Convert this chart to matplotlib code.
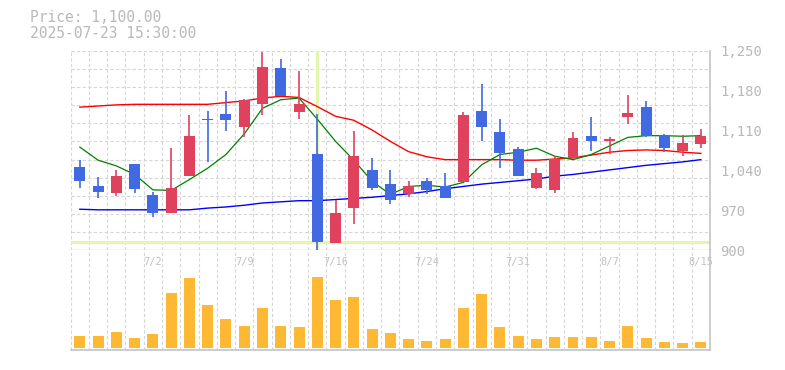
import numpy as np
import matplotlib
matplotlib.use('Agg')
import matplotlib.pyplot as plt
import matplotlib.transforms as mtransforms

# daily candles (35 sessions)
opens = [1046, 1013, 1000, 1052, 997, 966, 1031, 1131, 1139, 1117, 1157, 1220, 1143, 1068, 913,
         974, 1040, 1017, 998, 1022, 1012, 1019, 1145, 1108, 1078, 1010, 1005, 1061, 1101, 1091,
         1134, 1152, 1103, 1075, 1087]
highs = [1059, 1029, 1040, 1052, 1002, 1080, 1137, 1145, 1180, 1166, 1248, 1236, 1215, 1139, 988,
         1110, 1061, 1041, 1022, 1026, 1036, 1143, 1192, 1131, 1082, 1045, 1065, 1108, 1134, 1098,
         1173, 1162, 1104, 1103, 1112]
lows = [1010, 991, 996, 1001, 959, 966, 1031, 1054, 1110, 1098, 1138, 1171, 1131, 901, 912,
        946, 1005, 981, 993, 998, 991, 1019, 1091, 1045, 1030, 1008, 1000, 1061, 1075, 1069,
        1121, 1098, 1073, 1066, 1079]
closes = [1021, 1002, 1031, 1008, 966, 1010, 1101, 1129, 1129, 1163, 1222, 1171, 1157, 914, 966,
          1066, 1010, 988, 1012, 1005, 991, 1138, 1117, 1071, 1030, 1036, 1060, 1097, 1091, 1096,
          1141, 1101, 1079, 1089, 1100]
volume = [12, 12, 16, 10, 14, 55, 70, 43, 29, 22, 40, 22, 21, 71, 48, 51, 19, 15, 9, 7,
          9, 40, 54, 21, 12, 9, 11, 11, 11, 7, 22, 10, 6, 5, 6]

# moving averages
ma_short = [1081, 1058, 1048, 1033, 1006, 1005, 1024, 1044, 1068, 1104, 1149, 1164, 1167, 1130, 1091,
            1058, 1021, 998, 1012, 1014, 1011, 1019, 1050, 1068, 1072, 1079, 1065, 1059, 1068, 1083,
            1098, 1101, 1101, 1100, 1101]
ma_mid = [1151, 1153, 1155, 1156, 1156, 1156, 1156, 1156, 1159, 1162, 1167, 1170, 1168, 1152, 1135,
          1128, 1111, 1091, 1073, 1064, 1059, 1059, 1059, 1059, 1058, 1058, 1060, 1062, 1067, 1072,
          1075, 1076, 1075, 1072, 1070]
ma_long = [972, 971, 971, 971, 971, 971, 971, 974, 976, 979, 983, 985, 987, 987, 989,
           991, 993, 996, 999, 1003, 1008, 1012, 1016, 1019, 1022, 1025, 1030, 1033, 1037, 1041,
           1045, 1049, 1052, 1055, 1059]

date_pos = [4, 9, 14, 19, 24, 29, 34]
date_labels = ['7/2', '7/9', '7/16', '7/24', '7/31', '8/7', '8/15']
price_ticks = [900, 970, 1040, 1110, 1180, 1250]

cross_x = 13
cross_price = 914.7

UP = '#e0425e'
DOWN = '#4169e1'
GRID = '#d6d6d6'
AXIS = '#c4c4c4'
TXT = '#b9b9b9'
CROSS = '#e4f5b0'
MONO = 'DejaVu Sans Mono'

W, H = 785, 370


def box(l, t, r, b):
    return [l / W, 1 - b / H, (r - l) / W, (b - t) / H]


fig = plt.figure(figsize=(W / 100, H / 100), dpi=100)
ax = fig.add_axes(box(70.7, 50.7, 710, 250.3))
axv = fig.add_axes(box(70.7, 250.3, 710, 350.3), sharex=ax)

n = len(closes)
x = np.arange(n)

# grid
for a in (ax, axv):
    for k in range(n):
        a.axvline(k - 0.5, color=GRID, lw=0.8, dashes=(3, 2), zorder=0)
for yv in np.linspace(900, 1250, 12)[1:]:
    ax.axhline(yv, color=GRID, lw=0.8, dashes=(3, 2), zorder=0)

# crosshair
ax.axvline(cross_x, color=CROSS, lw=2.3, zorder=1)
ax.axhline(cross_price, color=CROSS, lw=2.3, zorder=1)

# moving averages
ax.plot(x, ma_long, color='#0000ff', lw=1.0, zorder=2)
ax.plot(x, ma_mid, color='#ff0000', lw=1.0, zorder=2)
ax.plot(x, ma_short, color='#008000', lw=0.9, zorder=2)

# candles
o = np.array(opens)
c = np.array(closes)
cols = [UP if cc >= oo else DOWN for oo, cc in zip(o, c)]
ax.vlines(x, lows, highs, colors=cols, lw=1.2, zorder=3)
bottom = np.minimum(o, c)
height = np.maximum(np.abs(c - o), 1.5)
ax.bar(x, height, bottom=bottom, width=0.6, color=cols, zorder=4)

ax.set_xlim(-0.5, n - 0.5)
ax.set_ylim(900, 1250)
ax.yaxis.tick_right()
ax.set_yticks(price_ticks)
ax.set_yticklabels([f'{t:,}' for t in price_ticks])
ax.tick_params(axis='y', length=0, pad=7.5, labelsize=10, labelcolor=TXT)
for lab in ax.get_yticklabels():
    lab.set_family(MONO)
ax.tick_params(axis='x', length=0, labelbottom=False)
ax.spines['left'].set_visible(False)
ax.spines['top'].set_visible(False)
ax.spines['right'].set_color(AXIS)
ax.spines['right'].set_linewidth(1.2)
ax.spines['bottom'].set_color(AXIS)
ax.spines['bottom'].set_linewidth(1.0)

# volume
axv.bar(x, volume, width=0.6, color='#ffb833', zorder=2)
axv.set_ylim(-2.3, 97.7)
axv.set_yticks([])
axv.tick_params(axis='x', length=0, labelbottom=False)
axv.spines['left'].set_visible(False)
axv.spines['top'].set_visible(False)
axv.spines['right'].set_color(AXIS)
axv.spines['right'].set_linewidth(1.2)
axv.spines['bottom'].set_color(AXIS)
axv.spines['bottom'].set_linewidth(1.2)

trans = mtransforms.blended_transform_factory(axv.transData, axv.transAxes)
for p, lbl in zip(date_pos, date_labels):
    axv.text(p, 0.88, lbl, transform=trans, ha='center', va='center',
             fontsize=7.5, color='#c2c2c2', family=MONO, clip_on=False, zorder=5)

fig.text(30 / W, 1 - 17.5 / H, 'Price: 1,100.00', ha='left', va='center',
         fontsize=10.5, color=TXT, family=MONO)
fig.text(30 / W, 1 - 33.3 / H, '2025-07-23 15:30:00', ha='left', va='center',
         fontsize=10.5, color=TXT, family=MONO)

fig.savefig('out.png', dpi=100)
